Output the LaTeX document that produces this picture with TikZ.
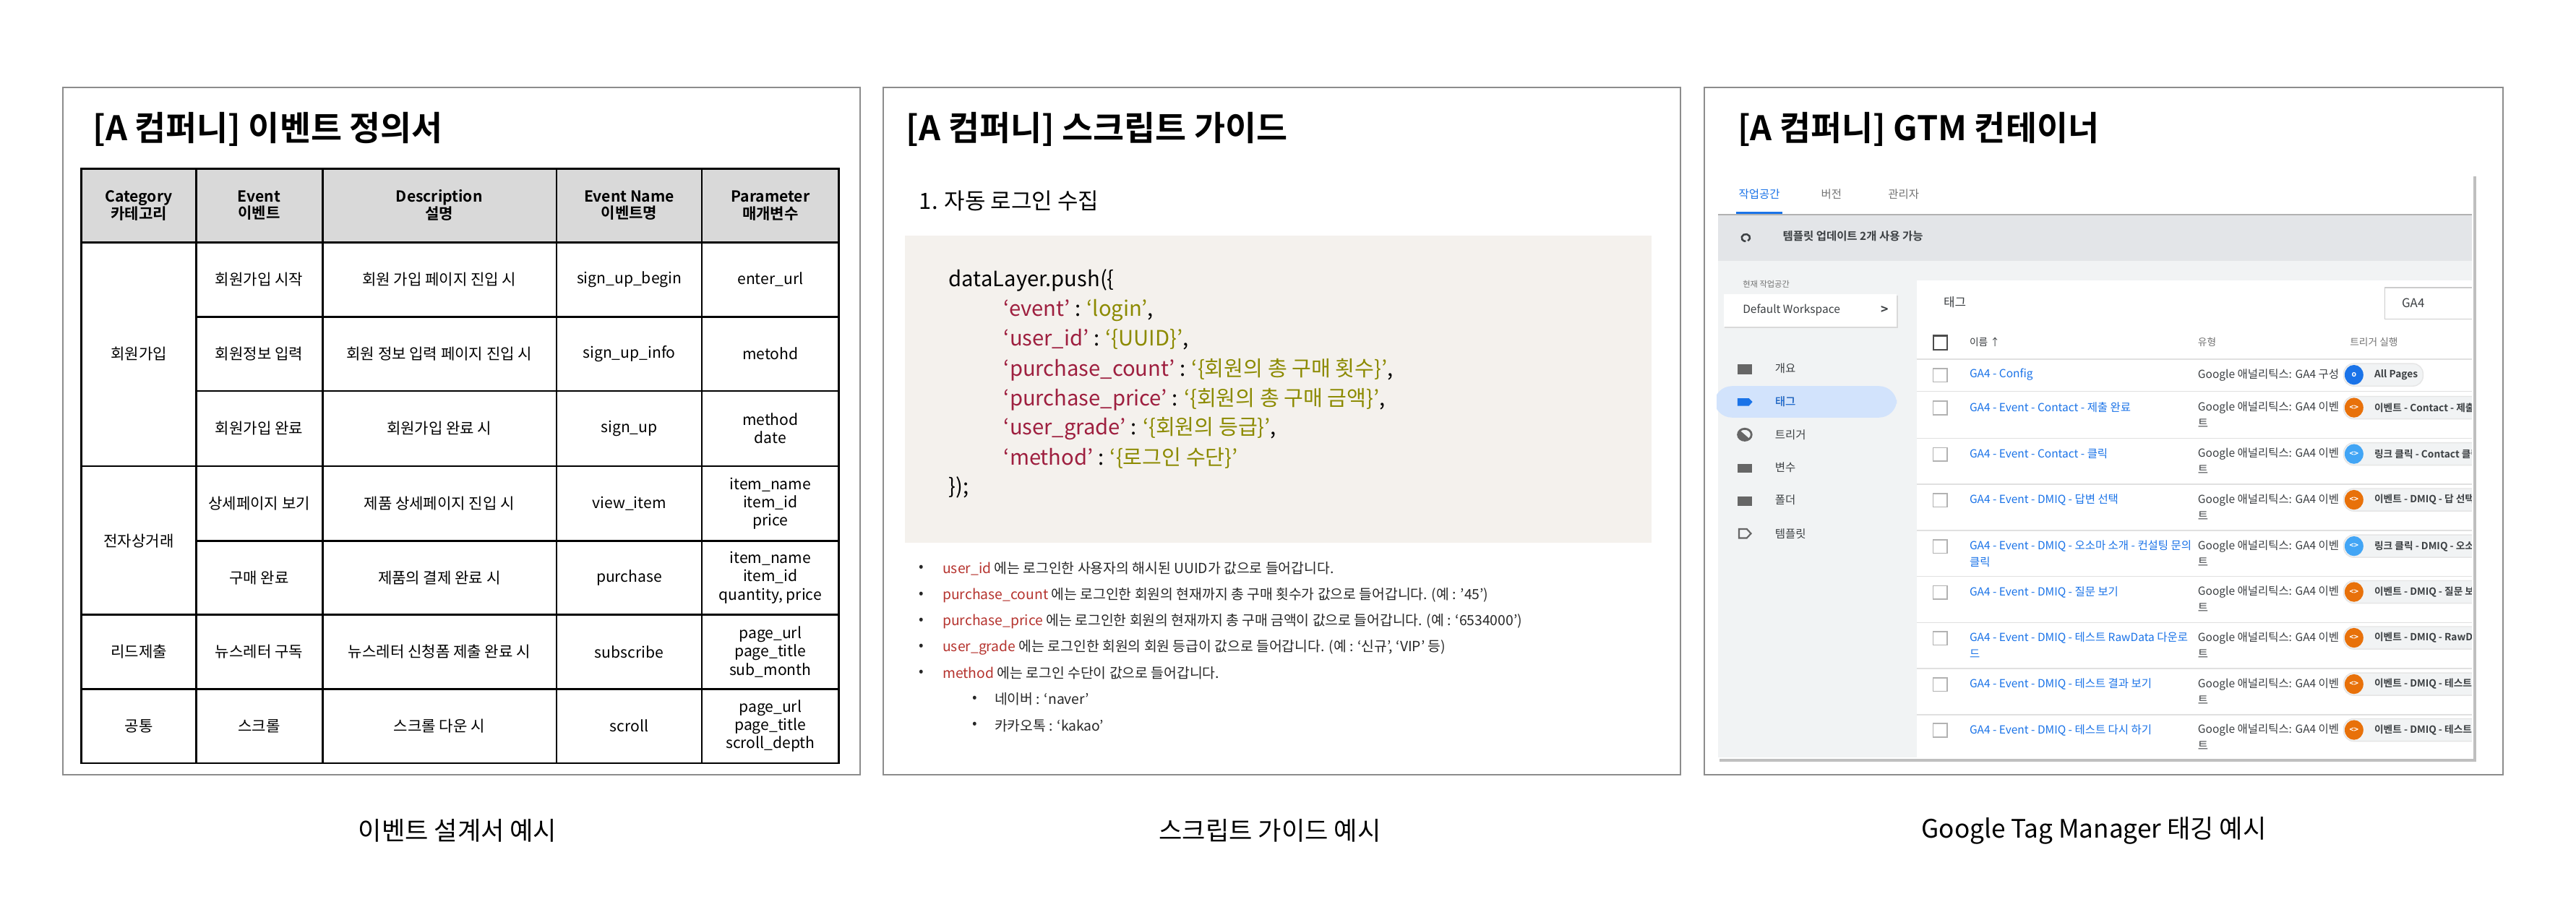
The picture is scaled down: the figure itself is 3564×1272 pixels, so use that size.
\documentclass[tikz,border=0pt]{standalone}
\usepackage{fontspec}
\setmainfont{Noto Sans CJK KR}[BoldFont=* Bold]
\newcommand\fsz[2]{\fontsize{#1}{#2}\selectfont}
\definecolor{hdr}{HTML}{D9D9D9}
\definecolor{codebg}{HTML}{F4F1ED}
\definecolor{keyc}{HTML}{9E1F3F}
\definecolor{valc}{HTML}{8C8A00}
\definecolor{redc}{HTML}{B5332E}
\definecolor{gblue}{HTML}{1A73E8}
\definecolor{gorange}{HTML}{E8710A}
\definecolor{lblue}{HTML}{42A5F5}
\definecolor{gbar}{HTML}{E3E5E8}
\definecolor{gbg}{HTML}{F1F3F4}
\definecolor{pill}{HTML}{D2E3FC}
\definecolor{gtxt}{HTML}{3C4043}
\begin{document}
\begin{tikzpicture}[x=0.01cm,y=-0.01cm,
  panel/.style={draw=black!45,line width=0.5pt},
  ttl/.style={anchor=west,font=\fsz{13.3}{15}\bfseries},
  cell/.style={font=\fsz{6}{7.2},align=center},
  hcell/.style={font=\fsz{6}{6.8}\bfseries,align=center},
  code/.style={anchor=west,font=\fsz{8.3}{10}},
  bul/.style={anchor=west,font=\fsz{5.5}{6},text=black!85},
  captext/.style={font=\fsz{10}{12}},
  gt/.style={anchor=west,font=\fsz{4.4}{5},text=gtxt},
  gn/.style={anchor=west,font=\fsz{4.4}{5},text=gblue},
  chip/.style={fill=gbg,draw=black!10,rounded corners=4pt}]
\useasboundingbox (0,0) rectangle (3564,1272);
% panels
\draw[panel] (87,121) rectangle (1190,1072);
\draw[panel] (1222,121) rectangle (2325,1072);
\draw[panel] (2358,121) rectangle (3463,1072);
% captions
\node[captext] (c1) at (633,1149) {이벤트 설계서 예시};
\node[captext] (c2) at (1757,1149) {스크립트 가이드 예시};
\node[captext] (c3) at (2897,1149) {Google Tag Manager 태깅 예시};

% ---------------- panel 1
\begin{scope}[shift={(80,110)},xscale=0.718,yscale=0.622]
\node[ttl] (t1) at (50,110) {[A 컴퍼니] 이벤트 정의서};
\fill[hdr] (45,198) rectangle (1505,363);
\begin{scope}[line width=0.8pt]
\draw (45,198) rectangle (1505,1521);
\foreach \x in {267,510,961,1241} \draw (\x,198) -- (\x,1521);
\draw (45,363) -- (1505,363);
\foreach \y in {528,693,1026} \draw (267,\y) -- (1505,\y);
\foreach \y in {860,1191,1356} \draw (45,\y) -- (1505,\y);
\end{scope}
\node[hcell] (h1) at (156,280) {Category\\카테고리};
\node[hcell] (h2) at (388,280) {Event\\이벤트};
\node[hcell] (h3) at (735,280) {Description\\설명};
\node[hcell] (h4) at (1101,280) {Event Name\\이벤트명};
\node[hcell] (h5) at (1373,280) {Parameter\\매개변수};
\node[cell] (k1) at (156,611) {회원가입};
\node[cell] (k2) at (156,1026) {전자상거래};
\node[cell] (k3) at (156,1273) {리드제출};
\node[cell] (k4) at (156,1438) {공통};
\foreach \y/\a/\b/\c/\d [count=\i] in {
 445/회원가입 시작/회원 가입 페이지 진입 시/sign\_up\_begin/enter\_url,
 610/회원정보 입력/회원 정보 입력 페이지 진입 시/sign\_up\_info/metohd,
 776/회원가입 완료/회원가입 완료 시/sign\_up/{method\\date},
 943/상세페이지 보기/제품 상세페이지 진입 시/view\_item/{item\_name\\item\_id\\price},
 1108/구매 완료/제품의 결제 완료 시/purchase/{item\_name\\item\_id\\quantity, price},
 1273/뉴스레터 구독/뉴스레터 신청폼 제출 완료 시/subscribe/{page\_url\\page\_title\\sub\_month},
 1438/스크롤/스크롤 다운 시/scroll/{page\_url\\page\_title\\scroll\_depth}}{
 \node[cell] (ea\i) at (388,\y) {\a};
 \node[cell] (eb\i) at (735,\y) {\b};
 \node[cell] (ec\i) at (1101,\y) {\c};
 \node[cell] (ed\i) at (1373,\y) {\d};
}
\end{scope}

% ---------------- panel 2
\begin{scope}[shift={(1220,110)},xscale=0.718,yscale=0.622]
\node[ttl] (t2) at (30,110) {[A 컴퍼니] 스크립트 가이드};
\node[anchor=west,font=\fsz{8.8}{10}] (s1) at (55,270) {1. 자동 로그인 수집};
\fill[codebg] (45,347) rectangle (1483,1030);
\node[code] (l0) at (112,447) {dataLayer.push(\{};
\node[code] (l1) at (218,513) {\textcolor{keyc}{‘event’} : \textcolor{valc}{‘login’},};
\node[code] (l2) at (218,579) {\textcolor{keyc}{‘user\_id’} : \textcolor{valc}{‘\{UUID\}’},};
\node[code] (l3) at (218,645) {\textcolor{keyc}{‘purchase\_count’} : \textcolor{valc}{‘\{회원의 총 구매 횟수\}’},};
\node[code] (l4) at (218,711) {\textcolor{keyc}{‘purchase\_price’} : \textcolor{valc}{‘\{회원의 총 구매 금액\}’},};
\node[code] (l5) at (218,777) {\textcolor{keyc}{‘user\_grade’} : \textcolor{valc}{‘\{회원의 등급\}’},};
\node[code] (l6) at (218,843) {\textcolor{keyc}{‘method’} : \textcolor{valc}{‘\{로그인 수단\}’}};
\node[code] (l7) at (112,908) {\});};
\foreach \y/\k/\t [count=\i] in {
 1088/user\_id/에는 로그인한 사용자의 해시된 UUID가 값으로 들어갑니다.,
 1147/purchase\_count/에는 로그인한 회원의 현재까지 총 구매 횟수가 값으로 들어갑니다. (예 : ’45’),
 1205/purchase\_price/에는 로그인한 회원의 현재까지 총 구매 금액이 값으로 들어갑니다. (예 : ‘6534000’),
 1263/user\_grade/에는 로그인한 회원의 회원 등급이 값으로 들어갑니다. (예 : ‘신규’{,} ‘VIP’ 등),
 1321/method/에는 로그인 수단이 값으로 들어갑니다.}{
 \node[bul] (bd\i) at (55,\y) {•};
 \node[bul] (bt\i) at (100,\y) {\textcolor{redc}{\k} \t};
}
\node[bul] (sd1) at (158,1379) {•};
\node[bul] (st1) at (200,1379) {네이버 : ‘naver’};
\node[bul] (sd2) at (158,1437) {•};
\node[bul] (st2) at (200,1437) {카카오톡 : ‘kakao’};
\end{scope}

% ---------------- panel 3
\begin{scope}[shift={(2350,110)},xscale=0.718,yscale=0.622]
\node[ttl] (t3) at (58,110) {[A 컴퍼니] GTM 컨테이너};
\fill[black!25] (41,216) rectangle (1499,1518);
\fill[white] (35,210) rectangle (1493,1512);
\begin{scope}
\clip (35,210) rectangle (1490,1510);
\fill[gbar] (38,302) rectangle (1490,403);
\fill[black!30] (38,299) rectangle (1490,303);
\fill[gbg] (38,403) rectangle (1490,1508);
\node[font=\fsz{4.4}{5},text=gblue] (tab1) at (117,255) {작업공간};
\node[font=\fsz{4.4}{5},text=black!55] (tab2) at (256,255) {버전};
\node[font=\fsz{4.4}{5},text=black!55] (tab3) at (395,255) {관리자};
\fill[gblue] (72,294) rectangle (162,299);
\draw[gtxt,line width=0.7pt] (91,352) ++(60:8) arc (60:-270:8);
\node[gt,font=\fsz{4.4}{5}\bfseries] (upd) at (145,348) {템플릿 업데이트 2개 사용 가능};
\node[gt,font=\fsz{3.2}{4},text=black!55] (cur) at (68,455) {현재 작업공간};
\fill[black!15] (50,481) rectangle (385,553);
\fill[white] (48,478) rectangle (382,550);
\node[gt,font=\fsz{4.4}{5}] (dw) at (68,513) {Default Workspace};
\node[gt,font=\fsz{5}{6}\bfseries] (dwa) at (335,513) {>};
\fill[pill,rounded corners=7pt] (30,682) rectangle (382,752);
\foreach \y/\t [count=\i] in {643/개요,717/태그,790/트리거,863/변수,936/폴더,1010/템플릿}{
 \node[gt,font=\fsz{4.4}{5}] (m\i) at (130,\y) {\t};
}
\fill[black!60] (75,633) rectangle (103,656);
\fill[gblue] (75,709) -- (97,709) -- (104,717) -- (97,726) -- (75,726) -- cycle;
\draw[black!60,line width=0.8pt] (89,790) circle (13);
\fill[black!60] (89,790) ++(45:13) arc (45:225:13) -- cycle;
\fill[black!60] (75,855) rectangle (103,875);
\fill[black!60] (75,928) rectangle (103,948);
\draw[black!60,line width=0.6pt] (78,1000) -- (93,1000) -- (101,1010) -- (93,1020) -- (78,1020) -- cycle;
\fill[white] (420,447) rectangle (1490,1508);
\node[gt,font=\fsz{4.8}{5}] (tg) at (455,495) {태그};
\draw[black!20,fill=white] (1322,463) rectangle (1495,533);
\node[gt,font=\fsz{4.8}{5}] (srch) at (1338,498) {GA4};
\draw[black!70,line width=0.6pt] (452,570) rectangle (479,601);
\node[gt,font=\fsz{3.9}{5}] (c1h) at (505,584) {이름 ↑};
\node[gt,font=\fsz{3.9}{5},text=black!55] (c2h) at (945,584) {유형};
\node[gt,font=\fsz{3.9}{5},text=black!55] (c3h) at (1238,584) {트리거 실행};
\foreach \y in {622,694,798,900,1003,1105,1208,1310,1413} \draw[black!12] (420,\y) -- (1490,\y);
\foreach \y/\n/\nb/\ty/\c/\ch [count=\i] in {
 657/GA4 - Config//0/gblue/All Pages,
 730/GA4 - Event - Contact - 제출 완료//1/gorange/이벤트 - Contact - 제출 완료,
 833/GA4 - Event - Contact - 클릭//1/lblue/링크 클릭 - Contact 클릭,
 935/GA4 - Event - DMIQ - 답변 선택//1/gorange/이벤트 - DMIQ - 답 선택,
 1038/GA4 - Event - DMIQ - 오소마 소개 - 컨설팅 문의/클릭/1/lblue/링크 클릭 - DMIQ - 오소마,
 1140/GA4 - Event - DMIQ - 질문 보기//1/gorange/이벤트 - DMIQ - 질문 보기,
 1242/GA4 - Event - DMIQ - 테스트 RawData 다운로/드/1/gorange/이벤트 - DMIQ - RawData,
 1345/GA4 - Event - DMIQ - 테스트 결과 보기//1/gorange/이벤트 - DMIQ - 테스트 결과,
 1447/GA4 - Event - DMIQ - 테스트 다시 하기//1/gorange/이벤트 - DMIQ - 테스트 다시}{
 \draw[black!30,line width=0.5pt] (452,\y-14) rectangle (479,\y+16);
 \node[gn] (n\i) at (505,\y) {\n};
 \node[gn] (nb\i) at (505,\y+35) {\nb};
 \ifnum\ty=0
  \node[gt] (ty\i) at (945,\y) {Google 애널리틱스: GA4 구성};
  \fill[chip] (1243,\y-25) rectangle (1396,\y+25);
 \else
  \node[gt] (ty\i) at (945,\y) {Google 애널리틱스: GA4 이벤};
  \node[gt] (tyb\i) at (945,\y+35) {트};
  \fill[chip] (1243,\y-25) rectangle (1530,\y+25);
 \fi
 \fill[\c] (1263,\y) ellipse (18 and 22);
 \node[font=\fsz{3}{4}\bfseries,text=white] (ci\i) at (1263,\y) {\ifnum\ty=0 o\else<>\fi};
 \node[gt,font=\fsz{3.9}{5}\bfseries] (ch\i) at (1285,\y) {\ch};
}
\node[gt,font=\fsz{4.4}{5},text=gblue] (m2b) at (130,717) {태그};
\end{scope}
\end{scope}
\end{tikzpicture}
\end{document}
